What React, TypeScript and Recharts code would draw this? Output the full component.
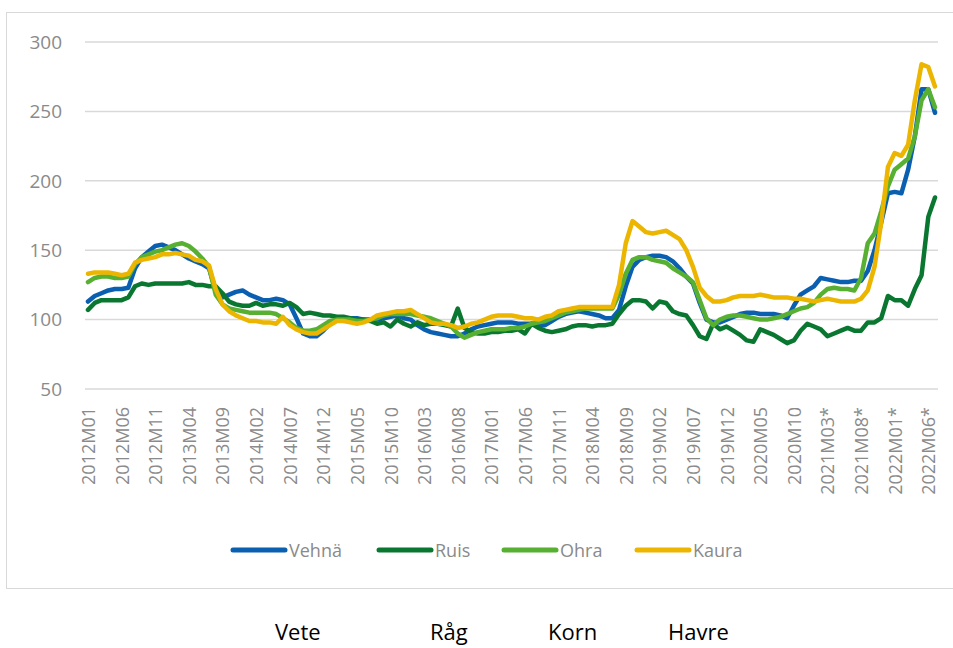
import React from 'react';
import { LineChart, Line, XAxis, YAxis, CartesianGrid, Legend } from 'recharts';

// monthly price index 2012M01 .. 2022M07 (* = preliminary from 2021)
const years = [2012, 2013, 2014, 2015, 2016, 2017, 2018, 2019, 2020, 2021, 2022];
const lastMonth = 7;

const vehna = [
  113, 117, 119, 121, 122, 122, 123, 137, 145, 149, 153, 154,
  152, 150, 147, 144, 142, 140, 137, 121, 116, 118, 120, 121,
  118, 116, 114, 114, 115, 114, 111, 101, 90, 88, 88, 92,
  97, 100, 101, 101, 101, 100, 100, 100, 101, 102, 103, 101,
  100, 96, 93, 91, 90, 89, 88, 88, 90, 93, 95, 96,
  97, 98, 98, 98, 97, 97, 97, 96, 96, 99, 102, 104,
  105, 106, 105, 104, 103, 101, 101, 107, 124, 138, 143, 145,
  146, 146, 145, 142, 137, 131, 126, 112, 100, 98, 98, 100,
  102, 104, 105, 105, 104, 104, 104, 103, 101, 110, 118, 121,
  124, 130, 129, 128, 127, 127, 128, 128, 135, 150, 170, 191,
  192, 191, 208, 232, 266, 266, 249,
];

const ruis = [
  107, 112, 114, 114, 114, 114, 116, 124, 126, 125, 126, 126,
  126, 126, 126, 127, 125, 125, 124, 124, 119, 113, 111, 110,
  110, 112, 110, 111, 111, 110, 112, 109, 104, 105, 104, 103,
  103, 102, 102, 101, 100, 100, 99, 97, 98, 95, 100, 97,
  95, 98, 96, 97, 97, 96, 95, 108, 94, 91, 90, 90,
  91, 91, 92, 92, 93, 90, 97, 94, 92, 91, 92, 93,
  95, 96, 96, 95, 96, 96, 97, 104, 110, 114, 114, 113,
  108, 113, 112, 106, 104, 103, 96, 88, 86, 97, 93, 95,
  92, 89, 85, 84, 93, 91, 89, 86, 83, 85, 92, 97,
  95, 93, 88, 90, 92, 94, 92, 92, 98, 98, 101, 117,
  114, 114, 110, 122, 132, 174, 188,
];

const ohra = [
  127, 130, 131, 131, 130, 130, 131, 140, 145, 147, 149, 150,
  152, 154, 155, 153, 149, 144, 138, 118, 111, 108, 107, 106,
  105, 105, 105, 105, 104, 101, 98, 94, 92, 92, 93, 96,
  99, 100, 100, 100, 99, 99, 100, 101, 103, 104, 104, 104,
  104, 103, 102, 101, 99, 97, 95, 90, 87, 89, 91, 92,
  93, 93, 93, 94, 94, 95, 97, 98, 99, 101, 103, 105,
  106, 107, 108, 108, 108, 108, 108, 118, 133, 143, 145, 145,
  143, 142, 141, 137, 134, 131, 127, 114, 101, 96, 100, 102,
  103, 103, 102, 101, 100, 100, 101, 102, 104, 106, 108, 109,
  112, 118, 122, 123, 122, 122, 121, 130, 155, 162, 178, 196,
  208, 212, 216, 232, 258, 266, 253,
];

const kaura = [
  133, 134, 134, 134, 133, 132, 133, 141, 143, 144, 145, 147,
  147, 148, 147, 146, 143, 142, 139, 122, 111, 106, 103, 101,
  99, 99, 98, 98, 97, 102, 96, 93, 91, 90, 90, 93,
  96, 99, 99, 98, 97, 98, 100, 103, 104, 105, 106, 106,
  107, 104, 101, 98, 97, 97, 96, 94, 95, 97, 98, 100,
  102, 103, 103, 103, 102, 101, 101, 100, 102, 103, 106, 107,
  108, 109, 109, 109, 109, 109, 109, 125, 155, 171, 167, 163,
  162, 163, 164, 161, 158, 150, 138, 123, 117, 113, 113, 114,
  116, 117, 117, 117, 118, 117, 116, 116, 116, 115, 115, 114,
  113, 114, 115, 114, 113, 113, 113, 115, 121, 138, 170, 210,
  220, 218, 226, 258, 284, 282, 268,
];

const seriesNames = ['Vehnä', 'Ruis', 'Ohra', 'Kaura'];
const seriesKeys = ['vehna', 'ruis', 'ohra', 'kaura'];
const colors = ['#0b5fb0', '#0a7731', '#57b031', '#ebb500'];
const yTicks = [50, 100, 150, 200, 250, 300];
const swedishNames = ['Vete', 'Råg', 'Korn', 'Havre'];

const months: string[] = [];
years.forEach((y) => {
  for (let m = 1; m <= 12; m++) {
    if (y === 2022 && m > lastMonth) break;
    const mm = m < 10 ? 'M0' + m : 'M' + m;
    months.push(y + mm + (y >= 2021 ? '*' : ''));
  }
});

const data = months.map((month, i) => ({
  month,
  vehna: vehna[i],
  ruis: ruis[i],
  ohra: ohra[i],
  kaura: kaura[i],
}));

const FONT = "'Open Sans', sans-serif";
const GREY = '#8a8a8a';

const MonthTick = (props: any) => {
  const { x, y, payload } = props;
  return (
    <text
      x={x}
      y={y}
      transform={`rotate(-90 ${x} ${y})`}
      textAnchor="end"
      dominantBaseline="central"
      fill={GREY}
      fontSize={18}
      fontFamily={FONT}
    >
      {payload.value}
    </text>
  );
};

const legendX = [230, 376, 501, 634];

const renderLegend = () => (
  <div style={{ position: 'relative', width: 953, height: 30 }}>
    {seriesNames.map((name, i) => (
      <div
        key={name}
        style={{ position: 'absolute', left: legendX[i], top: 0, height: 30, display: 'flex', alignItems: 'center' }}
      >
        <svg width={58} height={10}>
          <line x1={3} y1={5} x2={55} y2={5} stroke={colors[i]} strokeWidth={5} strokeLinecap="round" />
        </svg>
        <span style={{ marginLeft: 1, fontSize: 18, color: GREY, fontFamily: FONT }}>{name}</span>
      </div>
    ))}
  </div>
);

export default function App() {
  const labelX = [275, 430, 548, 668];
  return (
    <div style={{ position: 'absolute', left: 0, top: 0, width: 953, height: 648, overflow: 'hidden', background: '#fff' }}>
      <div
        style={{
          position: 'absolute',
          left: 6,
          top: 12,
          width: 1000,
          height: 575,
          border: '1.5px solid #d9d9d9',
        }}
      />
      <div style={{ position: 'absolute', left: 0, top: 0 }}>
        <LineChart width={953} height={588} data={data} margin={{ top: 42, right: 15, left: 0, bottom: 23 }}>
          <CartesianGrid vertical={false} stroke="#d9d9d9" strokeWidth={1.5} />
          <XAxis
            dataKey="month"
            interval={4}
            tick={<MonthTick />}
            tickLine={false}
            axisLine={false}
            tickSize={0}
            tickMargin={18}
            height={146}
            padding={{ left: 3, right: 3 }}
          />
          <YAxis
            domain={[50, 300]}
            ticks={yTicks}
            width={85}
            tickLine={false}
            axisLine={false}
            tickSize={0}
            tickMargin={23}
            tick={{ fill: GREY, fontSize: 19, fontFamily: FONT }}
          />
          <Legend verticalAlign="bottom" content={renderLegend} wrapperStyle={{ left: 0, width: 953 }} />
          {seriesKeys.map((k, i) => (
            <Line
              key={k}
              type="linear"
              dataKey={k}
              name={seriesNames[i]}
              stroke={colors[i]}
              strokeWidth={4.5}
              strokeLinejoin="round"
              strokeLinecap="round"
              dot={false}
              activeDot={false}
              isAnimationActive={false}
            />
          ))}
        </LineChart>
      </div>
      <svg style={{ position: 'absolute', left: 0, top: 598 }} width={953} height={50}>
        {swedishNames.map((n, i) => (
          <text key={n} x={labelX[i]} y={42} fontSize={22} fontFamily={FONT} fill="#000">
            {n}
          </text>
        ))}
      </svg>
    </div>
  );
}
